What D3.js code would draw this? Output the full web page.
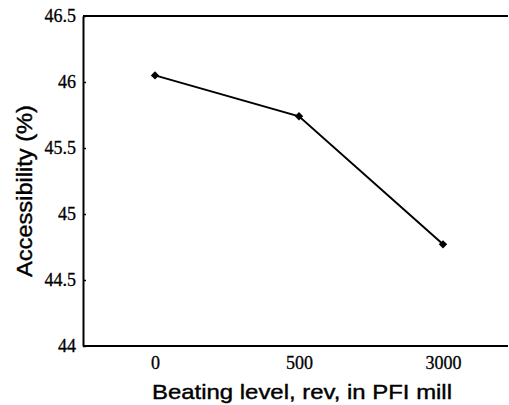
<!DOCTYPE html>
<html>
<head>
<meta charset="utf-8">
<script src="https://cdn.jsdelivr.net/npm/d3@7"></script>
<style>
  html, body { margin: 0; padding: 0; background: #fff; }
  svg { display: block; }
</style>
</head>
<body>
<svg id="chart" width="509" height="405"></svg>
<script>
const categories = ["0", "500", "3000"];
const accessibility = [46.05, 45.74, 44.77];
const yTicks = [44, 44.5, 45, 45.5, 46, 46.5];
const yTickLabels = ["44", "44.5", "45", "45.5", "46", "46.5"];
const xTitle = "Beating level, rev, in PFI mill";
const yTitle = "Accessibility (%)";

const svg = d3.select("#chart");
const mLeft = 83, mTop = 16, mBottom = 346, mRight = 508;

const x = d3.scalePoint().domain(categories).range([mLeft, 515]).padding(0.5);
const y = d3.scaleLinear().domain([44, 46.5]).range([mBottom, mTop]);

// frame lines (top and bottom, extending to image edge)
svg.append("line").attr("x1", mLeft).attr("x2", mRight).attr("y1", mTop).attr("y2", mTop)
  .attr("stroke", "#000").attr("stroke-width", 2);
svg.append("line").attr("x1", mLeft).attr("x2", mRight).attr("y1", mBottom).attr("y2", mBottom)
  .attr("stroke", "#000").attr("stroke-width", 2);

// y axis with inward ticks
const yAxis = d3.axisLeft(y).tickValues(yTicks)
  .tickFormat((d, i) => yTickLabels[i]).tickSizeInner(-3).tickSizeOuter(0).tickPadding(7);
const gy = svg.append("g").attr("transform", `translate(${mLeft},0)`).call(yAxis);
gy.select(".domain").attr("stroke", "#000").attr("stroke-width", 2);
gy.selectAll(".tick line").attr("stroke", "#000").attr("stroke-width", 1.5);
gy.selectAll(".tick text").attr("font-family", "'Liberation Serif', 'Times New Roman', serif")
  .attr("font-size", 18).attr("fill", "#000").attr("stroke", "#000").attr("stroke-width", 0.3)
  .attr("x", -7);

// x axis labels
const xAxis = d3.axisBottom(x).tickSize(0).tickPadding(10);
const gx = svg.append("g").attr("transform", `translate(0,${mBottom})`).call(xAxis);
gx.select(".domain").remove();
gx.selectAll(".tick text").attr("font-family", "'Liberation Serif', 'Times New Roman', serif")
  .attr("font-size", 18).attr("fill", "#000").attr("stroke", "#000").attr("stroke-width", 0.3);

// line
const line = d3.line().x((d, i) => x(categories[i])).y(d => y(d));
svg.append("path").datum(accessibility).attr("d", line)
  .attr("fill", "none").attr("stroke", "#000").attr("stroke-width", 2);

// diamond markers
const sym = d3.symbol().type(d3.symbolDiamond2).size(45);
svg.selectAll(".pt").data(accessibility).enter().append("path")
  .attr("class", "pt")
  .attr("transform", (d, i) => `translate(${x(categories[i])},${y(d)})`)
  .attr("d", sym).attr("fill", "#000");

// titles
svg.append("text").attr("x", 302).attr("y", 399).attr("text-anchor", "middle")
  .attr("font-family", "'Liberation Sans', Arial, sans-serif").attr("font-size", 21)
  .attr("textLength", 300).attr("lengthAdjust", "spacingAndGlyphs")
  .attr("fill", "#000").attr("stroke", "#000").attr("stroke-width", 0.4).text(xTitle);

svg.append("text").attr("transform", "translate(32,191) rotate(-90)").attr("text-anchor", "middle")
  .attr("font-family", "'Liberation Sans', Arial, sans-serif").attr("font-size", 22)
  .attr("textLength", 172).attr("lengthAdjust", "spacingAndGlyphs")
  .attr("fill", "#000").attr("stroke", "#000").attr("stroke-width", 0.4).text(yTitle);
</script>
</body>
</html>
